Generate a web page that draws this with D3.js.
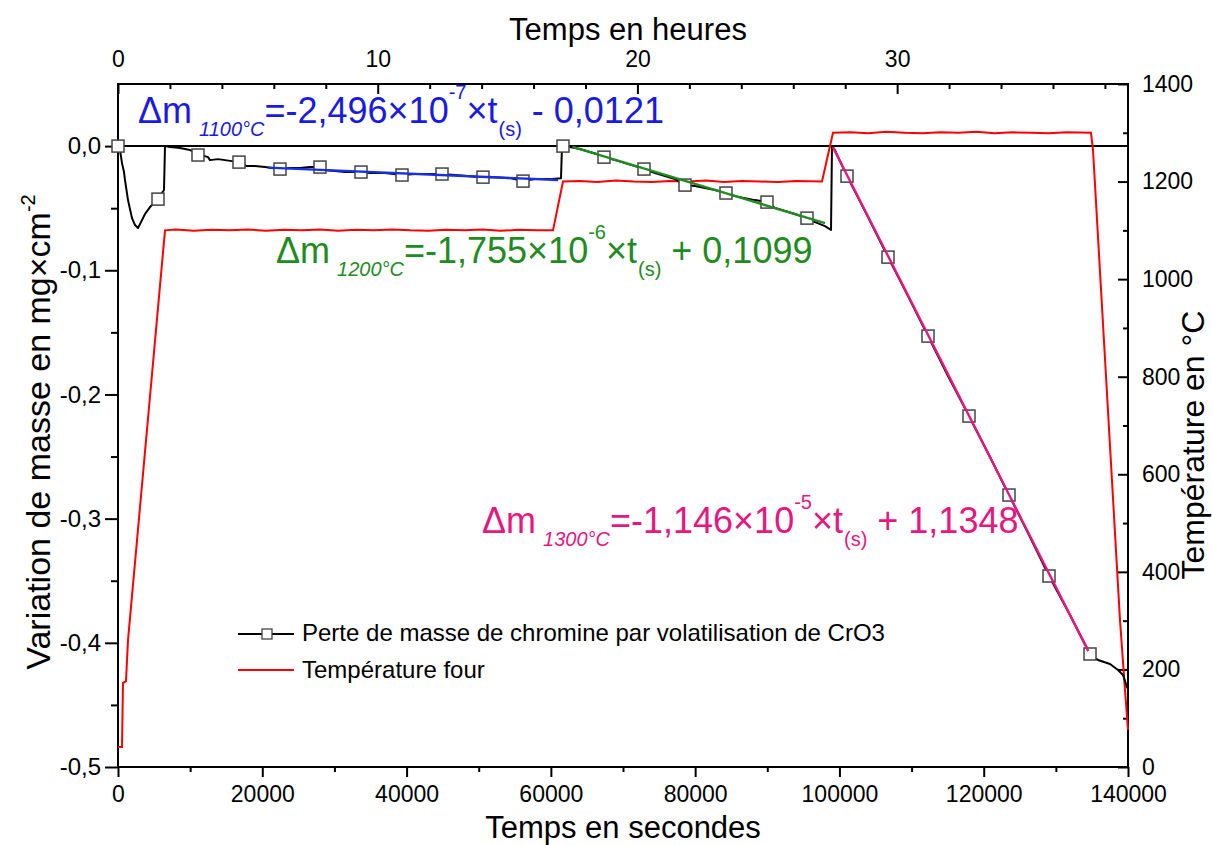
<!DOCTYPE html>
<html><head><meta charset="utf-8">
<script src="https://cdn.jsdelivr.net/npm/d3@7"></script>
<style>body{margin:0;background:#fff;} text{font-family:"Liberation Sans",Arial,sans-serif;fill:#000;}</style>
</head><body>
<svg id="c" width="1212" height="845"></svg>
<script>
// ---- data (t in seconds, mass variation in mg/cm2) ----
const massSeries = [
[0,0],[277,-0.0032],[554,-0.0137],[832,-0.0209],[970,-0.0274],[1386,-0.0435],[1941,-0.0580],[2356,-0.0636],[2772,-0.0660],[3188,-0.0612],[3743,-0.0547],[4436,-0.0491],[5129,-0.0451],[5545,-0.0427],[6099,-0.0378],[6376,-0.0354],[6515,0],
[7208,-0.0008],[8594,-0.0016],[9980,-0.0032],[10673,-0.0048],[11089,-0.0072],[12059,-0.0081],[12475,-0.0089],[12752,-0.0113],[13861,-0.0105],[14832,-0.0113],[15802,-0.0121],[16772,-0.0129],[17327,-0.0137],[17743,-0.0161],[18990,-0.0161],[20376,-0.0169],[21347,-0.0177],[22455,-0.0185],[23842,-0.0177],[25228,-0.0177],[26614,-0.0169],[28000,-0.0169],[28554,-0.0193],[30079,-0.0201],[31465,-0.0209],[33683,-0.0209],[34931,-0.0217],[37010,-0.0217],[39366,-0.0233],[41168,-0.0225],[43248,-0.0225],[44911,-0.0225],[46713,-0.0233],[48792,-0.0242],[50594,-0.0250],[52257,-0.0250],[54337,-0.0258],[56139,-0.0282],[57802,-0.0266],[59881,-0.0266],[61406,-0.0258],[61545,0],
[61683,0],[62654,-0.0008],[64040,-0.0024],[65426,-0.0048],[66812,-0.0072],[67366,-0.0089],[68891,-0.0113],[70277,-0.0137],[71663,-0.0161],[72911,-0.0185],[74436,-0.0217],[75822,-0.0242],[77208,-0.0266],[78594,-0.0314],[79980,-0.0322],[81366,-0.0338],[82752,-0.0354],[84277,-0.0378],[85525,-0.0403],[86911,-0.0419],[88297,-0.0435],[89960,-0.0451],[91069,-0.0499],[92455,-0.0523],[93842,-0.0547],[95505,-0.0580],[96614,-0.0612],[98000,-0.0644],[98832,-0.0676],[98970,0],
[99386,-0.0032],[101050,-0.0242],[103961,-0.0572],[106733,-0.0894],[109505,-0.1208],[112277,-0.1530],[115050,-0.1852],[117960,-0.2174],[120733,-0.2488],[123505,-0.2810],[126277,-0.3132],[129050,-0.3462],[131960,-0.3776],[134733,-0.4090],
[135842,-0.4138],[137505,-0.4171],[138614,-0.4219],[139307,-0.4259],[139861,-0.4356],[140000,-0.4370]
];
const massMarkers = [
[0,0],[5545,-0.0427],[11089,-0.0072],[16772,-0.0129],[22455,-0.0185],[28000,-0.0169],[33683,-0.0209],[39366,-0.0233],[44911,-0.0225],[50594,-0.0250],[56139,-0.0282],[61683,0],[67366,-0.0089],[72911,-0.0185],[78594,-0.0314],[84277,-0.0378],[89960,-0.0451],[95505,-0.0580],[101050,-0.0242],[106733,-0.0894],[112277,-0.1530],[117960,-0.2174],[123505,-0.2810],[129050,-0.3462],[134733,-0.4090]
];
// furnace temperature (t in s, T in °C)
const tempSeries = [
[0,41],[554,41],[693,172],[1109,176],[1386,260],[6515,1100],
[8000,1102],[10500,1099],[13000,1101],[15500,1100],[18000,1102],[20500,1099],[23000,1101],[25500,1100],[28000,1102],[30500,1099],[33000,1101],[35500,1100],[38000,1102],[40500,1100],[43000,1099],[45500,1101],[48000,1100],[50500,1102],[53000,1099],[55500,1101],[58000,1100],[60297,1100],
[61683,1200],[64000,1201],[66500,1199],[69000,1202],[71500,1200],[74000,1199],[76500,1201],[79000,1200],[81500,1202],[84000,1199],[86500,1201],[89000,1200],[91500,1199],[94000,1201],[97584,1200],
[99109,1300],[101500,1301],[104000,1299],[106500,1302],[109000,1300],[111500,1299],[114000,1301],[116500,1300],[119000,1302],[121500,1299],[124000,1301],[126500,1300],[129000,1299],[131500,1301],[134871,1300],
[135150,1265],[138891,301],[139584,158],[140000,76]
];
// linear fits: end points read on the picture
const fit1100 = [[20800,-0.0173],[61000,-0.0273]];
const fit1200 = [[63000,-0.0007],[98000,-0.0621]];
const fit1300 = [[99100,-0.0009],[134500,-0.4067]];

const xMajor = [0,20000,40000,60000,80000,100000,120000,140000];
const xMinor = [10000,30000,50000,70000,90000,110000,130000];
const hMajor = [0,10,20,30];
const hMinor = [2,4,6,8,12,14,16,18,22,24,26,28,32,34,36,38];
const yMajor = [-0.5,-0.4,-0.3,-0.2,-0.1,0.0];
const yLabels = ["-0,5","-0,4","-0,3","-0,2","-0,1","0,0"];
const yMinor = [-0.45,-0.35,-0.25,-0.15,-0.05];
const tMajor = [0,200,400,600,800,1000,1200,1400];
const tMinor = [100,300,500,700,900,1100,1300];

const legendLabels = ["Perte de masse de chromine par volatilisation de CrO3","Température four"];
const eq1100 = [["Δm","m"],["1100°C","sub"],["=-2,496×10","m"],["-7","sup"],["×t","m"],["(s)","sub"],[" - 0,0121","m"]];
const eq1200 = [["Δm","m"],["1200°C","sub"],["=-1,755×10","m"],["-6","sup"],["×t","m"],["(s)","sub"],[" + 0,1099","m"]];
const eq1300 = [["Δm","m"],["1300°C","sub"],["=-1,146×10","m"],["-5","sup"],["×t","m"],["(s)","sub"],[" + 1,1348","m"]];

// ---- drawing ----
const svg = d3.select("#c");
const L=118,R=1128,T=84,B=767;
const x = d3.scaleLinear().domain([0,140000]).range([L,R]);
const xh = d3.scaleLinear().domain([0,140000/3600]).range([L,R]);
const y = d3.scaleLinear().domain([-0.5,0.05]).range([B,T]);
const yt = d3.scaleLinear().domain([0,1400]).range([B,T]);
const TICKFS = 23;

function styleAxis(g, fs){
  g.select(".domain").remove();
  g.selectAll(".tick line").attr("stroke","#000").attr("stroke-width",2);
  g.selectAll(".tick text").attr("font-size",fs).attr("font-family","Liberation Sans, Arial, sans-serif").attr("fill","#000");
}
// bottom
svg.append("g").attr("transform",`translate(0,${B})`)
  .call(d3.axisBottom(x).tickValues(xMajor).tickFormat(d=>String(d)).tickSize(10).tickPadding(9).tickSizeOuter(0)).call(g=>styleAxis(g,TICKFS));
svg.append("g").attr("transform",`translate(0,${B})`)
  .call(d3.axisBottom(x).tickValues(xMinor).tickFormat("").tickSize(5).tickSizeOuter(0)).call(g=>styleAxis(g,TICKFS));
// top (hours)
svg.append("g").attr("transform",`translate(0,${T})`)
  .call(d3.axisTop(xh).tickValues(hMajor).tickFormat(d=>String(d)).tickSize(-10).tickPadding(17).tickSizeOuter(0)).call(g=>styleAxis(g,TICKFS));
svg.append("g").attr("transform",`translate(0,${T})`)
  .call(d3.axisTop(xh).tickValues(hMinor).tickFormat("").tickSize(-5).tickSizeOuter(0)).call(g=>styleAxis(g,TICKFS));
// left
svg.append("g").attr("transform",`translate(${L},0)`)
  .call(d3.axisLeft(y).tickValues(yMajor).tickFormat((d,i)=>yLabels[i]).tickSize(13).tickPadding(4).tickSizeOuter(0)).call(g=>styleAxis(g,TICKFS+1));
svg.append("g").attr("transform",`translate(${L},0)`)
  .call(d3.axisLeft(y).tickValues(yMinor).tickFormat("").tickSize(7).tickSizeOuter(0)).call(g=>styleAxis(g,TICKFS));
// right
svg.append("g").attr("transform",`translate(${R},0)`)
  .call(d3.axisRight(yt).tickValues(tMajor).tickFormat(d=>String(d)).tickSize(-10).tickPadding(14).tickSizeOuter(0)).call(g=>styleAxis(g,TICKFS));
svg.append("g").attr("transform",`translate(${R},0)`)
  .call(d3.axisRight(yt).tickValues(tMinor).tickFormat("").tickSize(-5).tickSizeOuter(0)).call(g=>styleAxis(g,TICKFS));

// frame
svg.append("rect").attr("x",L).attr("y",T).attr("width",R-L).attr("height",B-T)
  .attr("fill","none").attr("stroke","#000").attr("stroke-width",2);
// zero line
svg.append("line").attr("x1",L).attr("x2",R).attr("y1",y(0)).attr("y2",y(0)).attr("stroke","#000").attr("stroke-width",2);

const lineM = d3.line().x(d=>x(d[0])).y(d=>y(d[1]));
const lineT = d3.line().x(d=>x(d[0])).y(d=>yt(d[1]));

svg.append("path").datum(tempSeries).attr("d",lineT).attr("fill","none").attr("stroke","#ff0000").attr("stroke-width",2);
svg.append("path").datum(massSeries).attr("d",lineM).attr("fill","none").attr("stroke","#000").attr("stroke-width",2).attr("stroke-linejoin","round");
svg.selectAll("rect.mk").data(massMarkers).enter().append("rect").attr("class","mk")
  .attr("x",d=>x(d[0])-6).attr("y",d=>y(d[1])-6).attr("width",12).attr("height",12)
  .attr("fill","#fff").attr("stroke","#444").attr("stroke-width",1.5);
svg.append("path").datum(fit1100).attr("d",lineM).attr("fill","none").attr("stroke","#1a2ee6").attr("stroke-width",2.4);
svg.append("path").datum(fit1200).attr("d",lineM).attr("fill","none").attr("stroke","#1e8c1e").attr("stroke-width",2.4);
svg.append("path").datum(fit1300).attr("d",lineM).attr("fill","none").attr("stroke","#e8177f").attr("stroke-width",2.4);

// equations
function equation(parts, x0, y0, color){
  const t = svg.append("text").attr("x",x0).attr("y",y0).attr("fill",color).style("fill",color);
  let prev="m";
  parts.forEach(([s,k])=>{
    const sp = t.append("tspan").text(s);
    let dy=0, dx=0;
    if(k==="sub"){ dy = 13; dx = s==="(s)"?1:7; sp.attr("font-size",20); if(s!=="(s)") sp.attr("font-style","italic"); }
    else if(k==="sup"){ dy = -24; sp.attr("font-size",20); }
    else { dy = prev==="sub"?-13:(prev==="sup"?24:0); sp.attr("font-size",36); }
    sp.attr("dy",dy).attr("dx",dx);
    prev=k;
  });
}
equation(eq1100,138,123,"#1a1ae6");
equation(eq1200,276,263,"#1e8c1e");
equation(eq1300,482,533,"#e8177f");

// legend
svg.append("line").attr("x1",238).attr("x2",294).attr("y1",634).attr("y2",634).attr("stroke","#000").attr("stroke-width",2);
svg.append("rect").attr("x",262).attr("y",629).attr("width",10).attr("height",10).attr("fill","#fff").attr("stroke","#444").attr("stroke-width",1.3);
svg.append("line").attr("x1",238).attr("x2",294).attr("y1",670).attr("y2",670).attr("stroke","#ff0000").attr("stroke-width",2);
svg.append("text").attr("x",302).attr("y",641).attr("font-size",24).text(legendLabels[0]);
svg.append("text").attr("x",302).attr("y",678).attr("font-size",24).text(legendLabels[1]);

// axis titles
svg.append("text").attr("x",623).attr("y",838).attr("text-anchor","middle").attr("font-size",31).text("Temps en secondes");
svg.append("text").attr("x",628).attr("y",40).attr("text-anchor","middle").attr("font-size",31).text("Temps en heures");
const lt = svg.append("text").attr("transform","translate(50,432) rotate(-90)").attr("text-anchor","middle").attr("font-size",34);
lt.append("tspan").text("Variation de masse en mg×cm");
lt.append("tspan").attr("font-size",20).attr("dy",-15).text("-2");
svg.append("text").attr("transform","translate(1204,445) rotate(-90)").attr("text-anchor","middle").attr("font-size",32).text("Température en °C");
</script>
</body></html>
